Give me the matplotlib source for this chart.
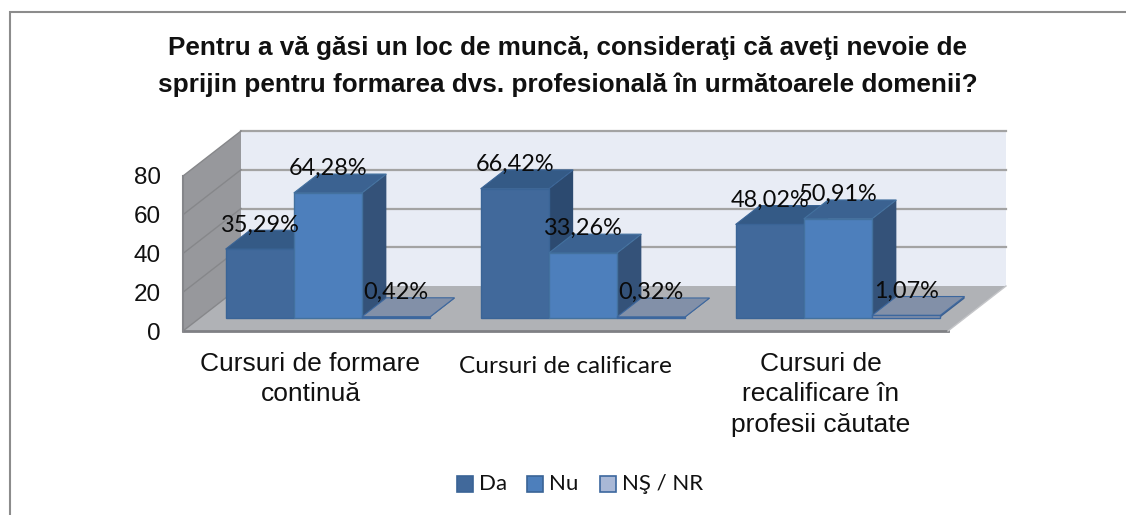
#!/usr/bin/env python3
"""Grouped 3D-look column chart, drawn as oblique polygons on a normal 2D axes."""
import matplotlib
matplotlib.use("Agg")
import matplotlib.pyplot as plt
from matplotlib.lines import Line2D
from matplotlib.patches import Polygon, Rectangle

CATEGORIES = ["Cursuri de formare\ncontinuă", "Cursuri de calificare",
              "Cursuri de\nrecalificare în\nprofesii căutate"]
SERIES = ["Da", "Nu", "NŞ / NR"]
DA = [35.29, 66.42, 48.02]
NU = [64.28, 33.26, 50.91]
NS = [0.42, 0.32, 1.07]
LABELS_DA = ["35,29%", "66,42%", "48,02%"]
LABELS_NU = ["64,28%", "33,26%", "50,91%"]
LABELS_NS = ["0,42%", "0,32%", "1,07%"]
YTICKS = [0, 20, 40, 60, 80]
TITLE = ("Pentru a vă găsi un loc de muncă, consideraţi că aveţi nevoie de\n"
         "sprijin pentru formarea dvs. profesională în următoarele domenii?")

W, H = 1126, 515
X0, X1, Y0, Y1 = 183, 948, 331, 176    # front plane of the plot, pixels
DX, DY = 58 / 255, 45 / 1.9375         # wall depth in data units (oblique offset)
BAR_W = 68.2 / 255
BAR_D0, BAR_D1 = 0.30, 0.72            # bar extent along the depth axis
GAP = (1 - 3 * BAR_W) / 2

FRONT = ["#41699b", "#4d7fbc", "#8290a8"]
TOP = ["#345a86", "#3b6291", "#8290a8"]
SIDE = ["#2c4a70", "#345279", "#3b5f8f"]
EDGE = ["#3a6496", "#43719f", "#3c679e"]
WALL, BACK, FLOOR, RULE = "#97989c", "#e8ecf5", "#b0b2b6", "#a3a3a3"


def proj(x, v, d=0.0):
    return (x + d * DX, v + d * DY)


def poly(ax, pts, fc, ec="none", lw=0.0, z=2):
    ax.add_patch(Polygon(pts, closed=True, fc=fc, ec=ec, lw=lw, zorder=z, clip_on=False,
                         joinstyle="miter"))


def bar(ax, x, v, i, z):
    x2 = x + BAR_W
    a, b = BAR_D0, BAR_D1
    ec = EDGE[i]
    poly(ax, [proj(x2, 0, a), proj(x2, 0, b), proj(x2, v, b), proj(x2, v, a)], SIDE[i], z=z)
    poly(ax, [proj(x, v, a), proj(x2, v, a), proj(x2, v, b), proj(x, v, b)], TOP[i], ec, 0.8, z)
    poly(ax, [proj(x, 0, a), proj(x2, 0, a), proj(x2, v, a), proj(x, v, a)], FRONT[i], ec, 1.0, z)


fig = plt.figure(figsize=(W / 100, H / 100), dpi=100, facecolor="white")
# frame is cropped by the picture: only the top and left edges show
fig.add_artist(Line2D([10 / W, 10 / W, 1], [0, 1 - 12 / H, 1 - 12 / H], color="#8c8c8c", lw=1.5,
                      transform=fig.transFigure, zorder=-1, solid_joinstyle="miter"))
ax = fig.add_axes([X0 / W, 1 - Y0 / H, (X1 - X0) / W, (Y0 - Y1) / H], facecolor="none")
ax.set_xlim(0, 3)
ax.set_ylim(0, 80)
for s in ax.spines.values():
    s.set_visible(False)
ax.set_xticks([])
ax.set_yticks(YTICKS)
ax.tick_params(axis="y", length=0, pad=16, labelsize=17.5, labelcolor="#111111")
for t in ax.get_yticklabels():
    t.set_fontfamily("Liberation Sans")

# walls and floor
poly(ax, [proj(0, 0, 1), proj(3, 0, 1), proj(3, 80, 1), proj(0, 80, 1)], BACK, z=0)
poly(ax, [proj(0, 0), proj(3, 0), proj(3, 0, 1), proj(0, 0, 1)], FLOOR, z=1)
poly(ax, [proj(0, 0), proj(0, 0, 1), proj(0, 80, 1), proj(0, 80)], WALL, z=1)
for v in YTICKS:
    ax.plot(*zip(proj(0, v), proj(0, v, 1)), color="#86878a", lw=1.0, zorder=1.2, clip_on=False)
    if v:
        ax.plot(*zip(proj(0, v, 1), proj(3, v, 1)), color=RULE, lw=1.6, zorder=0.5, clip_on=False)
ax.plot(*zip(proj(0, 0), proj(3, 0)), color="#7f8084", lw=2.0, zorder=1.5, clip_on=False)
ax.plot(*zip(proj(0, 0), proj(0, 80)), color="#85868a", lw=1.5, zorder=1.5, clip_on=False)
ax.plot(*zip(proj(3, 0), proj(3, 0, 1)), color="#c4c5c8", lw=1.0, zorder=1.5, clip_on=False)

for c in range(len(CATEGORIES)):
    for i, (vals, labs) in enumerate(zip((DA, NU, NS), (LABELS_DA, LABELS_NU, LABELS_NS))):
        x = c + GAP + i * BAR_W
        bar(ax, x, vals[c], i, 3 + i * 0.1)
        lx, ly = proj(x + BAR_W / 2, vals[c], BAR_D0)
        ax.text(lx, ly + 12.5, labs[c], ha="center", va="center", fontsize=16.9,
                family="Lato", color="#0a0a0a", zorder=6, clip_on=False)

# category labels sit below the floor, middle one is in the other font
for c, name in enumerate(CATEGORIES):
    fam, fs, off = ("Lato", 17.6, -18) if c == 1 else ("Liberation Sans", 19, -15)
    ax.annotate(name, xy=(c + 0.5, 0), xytext=(0, off), textcoords="offset points",
                ha="center", va="top", fontsize=fs, family=fam, color="#111111",
                linespacing=1.35, annotation_clip=False)

fig.text(568 / W, 1 - 66.5 / H, TITLE, ha="center", va="center", fontsize=18.85, fontweight="bold",
         family="Liberation Sans", color="#111111", linespacing=1.6)

# legend drawn by hand: tight little keys like the office original
LEG_X = [457, 527, 600]
for i, name in enumerate(SERIES):
    fc = ["#41699b", "#4d7fbc", "#a9b8d6"][i]
    ec = ["#3a6496", "#3a6496", "#3c679e"][i]
    fig.add_artist(Rectangle((LEG_X[i] / W, 1 - 492 / H), 16 / W, 16 / H, transform=fig.transFigure,
                             fc=fc, ec=ec, lw=1.2))
    fig.text((LEG_X[i] + 22) / W, 1 - 484.5 / H, name, ha="left", va="center", fontsize=16,
             family="Lato", color="#111111")

fig.savefig("out.png", dpi=100, facecolor="white")
